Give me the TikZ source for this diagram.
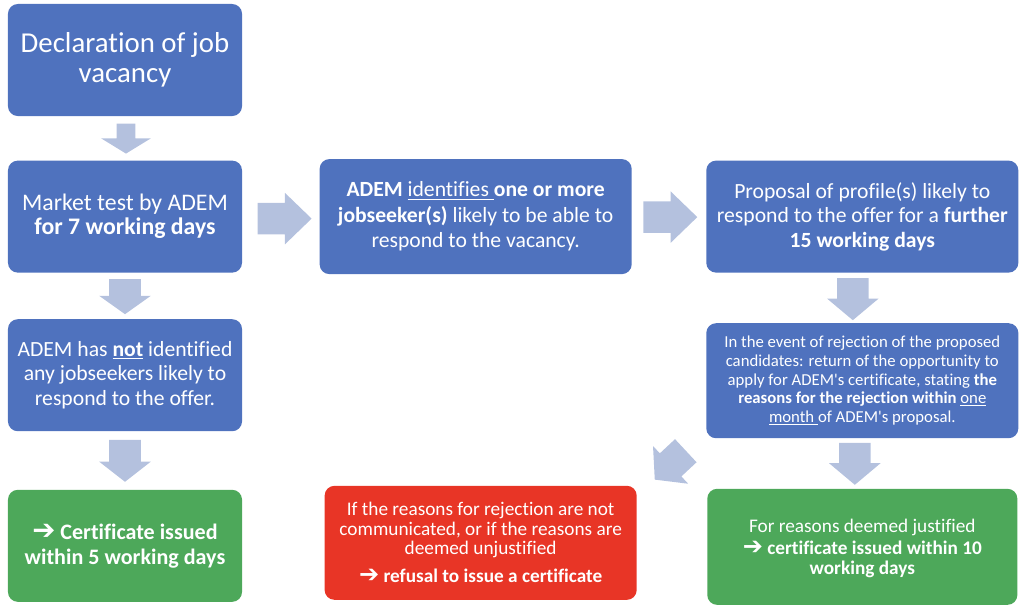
\documentclass[tikz,border=0pt]{standalone}
\usepackage{fontspec}
\setmainfont{Carlito}[Ligatures={NoCommon,NoContextual,NoRequired}, Contextuals={NoAlternate}]
\newfontfamily\symfont{DejaVu Sans}
\usetikzlibrary{positioning,shapes.arrows,calc}
\definecolor{ademblue}{HTML}{4F72BE}
\definecolor{ademarrow}{HTML}{B4C1DE}
\definecolor{ademgreen}{HTML}{4DA85A}
\definecolor{ademred}{HTML}{E83526}
\tikzset{
  box/.style={rounded corners=7pt, fill=ademblue, text=white, align=center,
    inner sep=0pt, minimum width=5.85cm, minimum height=2.8cm},
  widebox/.style={box, minimum width=7.8cm, minimum height=2.85cm},
  okbox/.style={fill=ademgreen},
  nobox/.style={fill=ademred},
  blockarrow/.style={single arrow, fill=ademarrow, inner xsep=0pt, inner ysep=0.3875cm,
    minimum width=0pt, single arrow head extend=0.25cm, anchor=tail},
}
\newcommand{\harrow}{{\symfont\bfseries\scalebox{1.25}{➔}}}
\newcommand{\apos}{\textquotesingle}
\newcommand{\midsize}{\fontsize{15.4}{17.4}\selectfont}

\begin{document}
\begin{tikzpicture}[x=0.025cm, y=-0.025cm]
\useasboundingbox (0,0) rectangle (1024,608);
% left column
\node[box, font=\fontsize{20.5}{21.3}\selectfont] (decl) at (125,60) {Declaration of job\\vacancy};
\node[box, font=\fontsize{16.9}{17.1}\selectfont, below=1.1cm of decl] (market)
  {Market test by ADEM\\\textbf{for 7 working days}};
\node[box, font=\midsize, below=1.15cm of market] (notfound)
  {ADEM has \textbf{\underline{not}} identified\\any jobseekers likely to\\respond to the offer.};
\node[box, okbox, font=\fontsize{15.7}{17.8}\selectfont, below=1.45cm of notfound] (certleft)
  {\textbf{\harrow\ Certificate issued}\\\textbf{within 5 working days}};
% top row
\node[widebox, font=\fontsize{15.4}{18.1}\selectfont, minimum height=2.875cm, right=1.925cm of market] (found)
  {\textbf{ADEM} \underline{identifies }\textbf{one or more}\\\textbf{jobseeker(s)} likely to be able to\\respond to the vacancy.};
\node[widebox, font=\midsize, minimum height=2.8cm, right=1.85cm of found] (proposal)
  {Proposal of profile(s) likely to\\respond to the offer for a \textbf{further}\\\textbf{15 working days}};
% right column
\node[widebox, font=\fontsize{11.9}{13.2}\selectfont, minimum height=2.875cm, below=1.25cm of proposal] (event)
  {In the event of rejection of the proposed\\candidates: return of the opportunity to\\apply for ADEM\apos s certificate, stating \textbf{the}\\\textbf{reasons for the rejection within} \underline{one}\\\underline{month }of ADEM\apos s proposal.};
\node[widebox, okbox, font=\fontsize{13.7}{14.2}\selectfont, minimum width=7.75cm, minimum height=2.9cm, below=1.25cm of event] (certright)
  {\rule{0pt}{12pt}For reasons deemed justified\\[1pt]\textbf{\harrow\ certificate issued within 10}\\\textbf{working days}};
\node[widebox, nobox, font=\fontsize{13.7}{13.9}\selectfont, left=1.75cm of certright, yshift=0.1cm] (refusal)
  {If the reasons for rejection are not\\communicated, or if the reasons are\\deemed unjustified\\[6pt]\textbf{\harrow\ refusal to issue a certificate}};
% block arrows
\node[blockarrow, rotate=-90, minimum height=0.75cm, inner ysep=0.225cm,
  single arrow head extend=0.39cm, single arrow tip angle=117] (a1)
  at ($(decl.south)+(1,7)$) {};
\node[blockarrow, rotate=-90, minimum height=0.875cm, single arrow tip angle=109] (a2)
  at ($(market.south)+(0,6)$) {};
\node[blockarrow, rotate=-90, minimum height=1.05cm, single arrow tip angle=104] (a3)
  at ($(notfound.south)+(0,8)$) {};
\node[blockarrow, minimum height=1.35cm, single arrow tip angle=88] (a4)
  at ($(market.east)+(15,2)$) {};
\node[blockarrow, minimum height=1.35cm, single arrow tip angle=88] (a5)
  at ($(found.east)+(11,0.5)$) {};
\node[blockarrow, rotate=-90, minimum height=1.05cm, single arrow tip angle=100] (a6)
  at ($(proposal.south)+(-9.5,5)$) {};
\node[blockarrow, rotate=-90, minimum height=1.05cm, single arrow tip angle=100] (a7)
  at ($(event.south)+(-7.5,4)$) {};
\node[blockarrow, rotate=223, minimum height=1.06cm, single arrow tip angle=100] (a8)
  at ($(event.south west)+(-20,12)$) {};
\end{tikzpicture}
\end{document}
